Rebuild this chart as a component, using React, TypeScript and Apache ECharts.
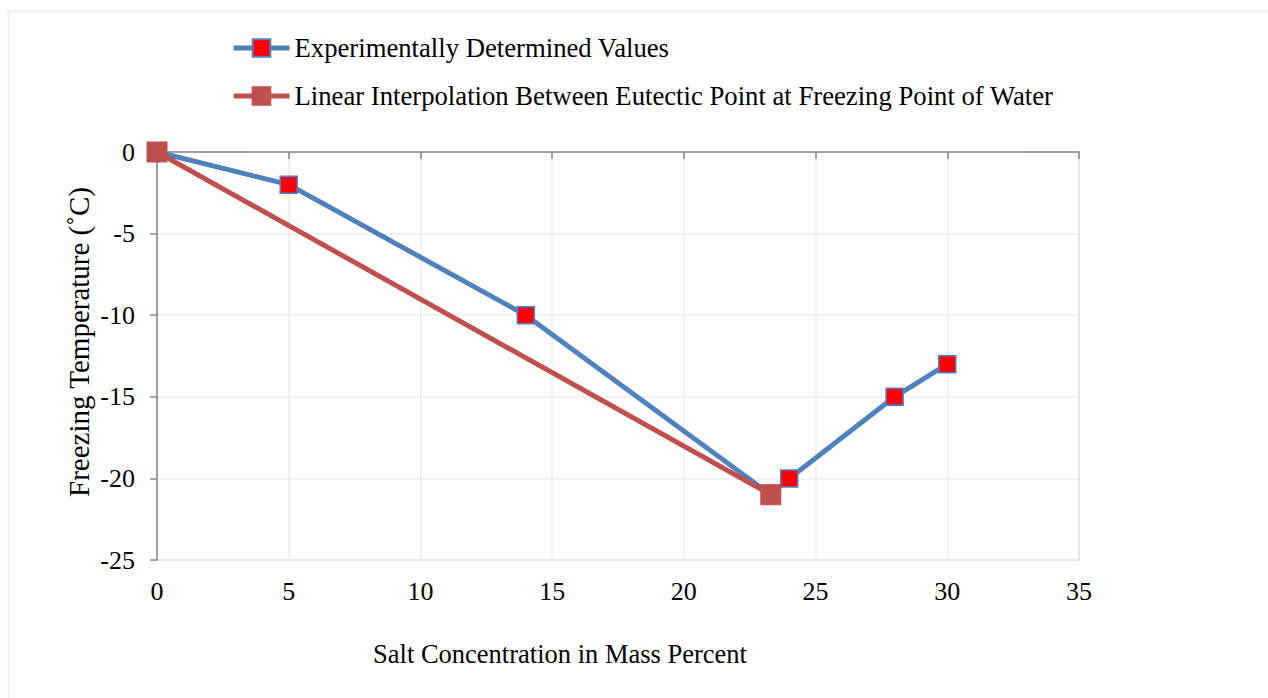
import React, { useEffect, useRef } from "react";
import * as echarts from "echarts";

const seriesNames = [
  "Experimentally Determined Values",
  "Linear Interpolation Between Eutectic Point at Freezing Point of Water",
];
const experimentalX = [0, 5, 14, 23.3, 24, 28, 30];
const experimentalY = [0, -2, -10, -21, -20, -15, -13];
const interpolationX = [0, 23.3];
const interpolationY = [0, -21];
const xTicks = { min: 0, max: 35, interval: 5 };
const yTicks = { min: -25, max: 0, interval: 5 };
const xTitle = "Salt Concentration in Mass Percent";
const yTitle = "Freezing Temperature (\u02DAC)";

const FONT = "Liberation Serif";

export default function App() {
  const ref = useRef<HTMLDivElement>(null);
  useEffect(() => {
    if (!ref.current) return;
    const chart = echarts.init(ref.current, undefined, { renderer: "svg" });
    const expData = experimentalX.map((x, i) => [x, experimentalY[i]]);
    const intData = interpolationX.map((x, i) => [x, interpolationY[i]]);
    chart.setOption({
      animation: false,
      backgroundColor: "#ffffff",
      textStyle: { fontFamily: FONT, color: "#000" },
      grid: {
        left: 157,
        right: 189,
        top: 152,
        bottom: 138,
        show: true,
        borderColor: "#c4c4c4",
        borderWidth: 1.5,
        backgroundColor: "transparent",
      },
      legend: {
        orient: "vertical",
        left: 226,
        top: 27,
        itemWidth: 56,
        itemHeight: 22,
        itemGap: 16,
        data: seriesNames,
        lineStyle: { width: 5 },
        textStyle: { fontFamily: FONT, fontSize: 26.7, color: "#000", lineHeight: 32 },
      },
      xAxis: [
        {
          type: "value",
          position: "top",
          min: xTicks.min,
          max: xTicks.max,
          interval: xTicks.interval,
          axisLine: { show: true, onZero: false, lineStyle: { color: "#878787", width: 1.5 } },
          axisTick: { show: true, inside: true, length: 7, lineStyle: { color: "#878787", width: 1.5 } },
          axisLabel: { show: false },
          splitLine: { show: true, lineStyle: { color: "#ececec", width: 1.5 } },
        },
        {
          type: "value",
          position: "bottom",
          min: xTicks.min,
          max: xTicks.max,
          interval: xTicks.interval,
          axisLine: { show: false },
          axisTick: { show: false },
          splitLine: { show: false },
          axisLabel: {
            show: true,
            margin: 18,
            fontFamily: FONT,
            fontSize: 26,
            color: "#000",
            showMinLabel: true,
            showMaxLabel: true,
          },
        },
      ],
      yAxis: {
        type: "value",
        min: yTicks.min,
        max: yTicks.max,
        interval: yTicks.interval,
        axisLine: { show: true, onZero: false, lineStyle: { color: "#878787", width: 1.5 } },
        axisTick: { show: true, inside: false, length: 7, lineStyle: { color: "#878787", width: 1.5 } },
        axisLabel: {
          margin: 22,
          fontFamily: FONT,
          fontSize: 26,
          color: "#000",
          showMinLabel: true,
          showMaxLabel: true,
        },
        splitLine: { show: true, lineStyle: { color: "#ececec", width: 1.5 } },
      },
      graphic: [
        {
          type: "rect",
          silent: true,
          z: -10,
          shape: { x: 8.5, y: 11.5, width: 1400, height: 800 },
          style: { fill: "none", stroke: "#ececec", lineWidth: 1.5 },
        },
        {
          type: "text",
          x: 560,
          y: 654,
          style: {
            text: xTitle,
            fontFamily: FONT,
            fontSize: 26.5,
            fill: "#000",
            textAlign: "center",
            textVerticalAlign: "middle",
          },
        },
        {
          type: "text",
          x: 79,
          y: 342,
          rotation: Math.PI / 2,
          style: {
            text: yTitle,
            fontFamily: FONT,
            fontSize: 29,
            fill: "#000",
            textAlign: "center",
            textVerticalAlign: "middle",
          },
        },
      ],
      series: [
        {
          name: seriesNames[0],
          type: "line",
          xAxisIndex: 0,
          data: expData,
          symbol: "rect",
          symbolSize: 17,
          showAllSymbol: true,
          lineStyle: { color: "#4F81BD", width: 5 },
          itemStyle: { color: "#FF0000", borderColor: "#4F81BD", borderWidth: 1.5 },
          z: 2,
        },
        {
          name: seriesNames[1],
          type: "line",
          xAxisIndex: 0,
          data: intData,
          symbol: "rect",
          symbolSize: 20,
          showAllSymbol: true,
          lineStyle: { color: "#C0504D", width: 5 },
          itemStyle: { color: "#C0504D", borderColor: "#C0504D", borderWidth: 1 },
          z: 3,
        },
      ],
    });
    return () => chart.dispose();
  }, []);
  return (
    <div
      ref={ref}
      style={{ position: "fixed", left: 0, top: 0, width: 1268, height: 698 }}
    />
  );
}
